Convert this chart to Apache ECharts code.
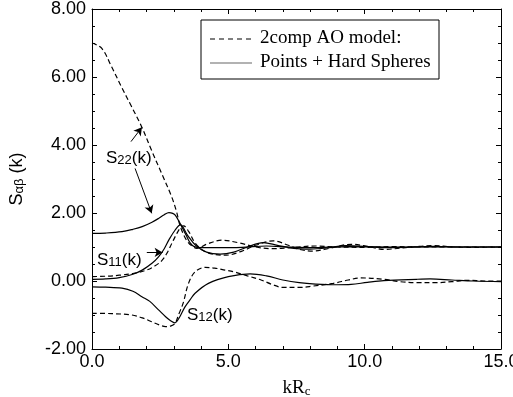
<!DOCTYPE html>
<html>
<head>
<meta charset="utf-8">
<script src="https://cdn.jsdelivr.net/npm/echarts@6/dist/echarts.min.js"></script>
<style>
html,body{margin:0;padding:0;background:#fff;}
#chart{width:513px;height:397px;}
</style>
</head>
<body>
<div id="chart"></div>
<script>
// ---- data ----
const xTickLabels = ['0.0', '5.0', '10.0', '15.0'];
const yTickLabels = ['-2.00', '0.00', '2.00', '4.00', '6.00', '8.00'];

// S22(k), 2comp AO model (dashed)
const kS22AO = [0, 0.36, 0.72, 1.08, 1.45, 1.82, 2.18, 2.55, 2.92, 3.1, 3.22, 3.34, 3.47, 3.65, 3.85, 4.2, 4.75, 5.4, 6.0, 6.6, 7.3, 8.2, 9.0, 10.0, 11.0, 12.0, 13.0, 15.0];
const S22AO  = [7.00, 6.84, 6.30, 5.71, 5.13, 4.54, 3.85, 3.17, 2.48, 2.04, 1.65, 1.40, 1.20, 1.04, 0.96, 1.08, 1.20, 1.12, 1.00, 0.95, 0.98, 1.03, 1.00, 0.99, 1.01, 1.00, 1.00, 1.00];

// S22(k), Points + Hard Spheres (solid)
const kS22PHS = [0, 0.5, 1.1, 1.5, 1.84, 2.2, 2.44, 2.65, 2.82, 2.96, 3.06, 3.24, 3.45, 3.6, 3.75, 4.0, 4.5, 5.5, 6.4, 7.2, 8.0, 9.4, 11.0, 13.0, 15.0];
const S22PHS  = [1.40, 1.41, 1.45, 1.52, 1.60, 1.73, 1.84, 1.95, 2.01, 1.99, 1.93, 1.68, 1.35, 1.12, 1.01, 0.98, 0.98, 0.99, 1.03, 1.00, 0.98, 1.01, 1.00, 1.00, 1.00];

// S11(k), 2comp AO model (dashed)
const kS11AO = [0, 0.5, 1.0, 1.5, 2.0, 2.3, 2.56, 2.75, 2.93, 3.1, 3.23, 3.36, 3.55, 3.8, 4.2, 4.93, 5.5, 6.0, 6.65, 7.2, 7.6, 8.1, 8.7, 9.5, 10.1, 10.7, 11.5, 12.5, 13.3, 14.0, 15.0];
const S11AO  = [0.13, 0.14, 0.17, 0.22, 0.32, 0.44, 0.60, 0.82, 1.11, 1.38, 1.55, 1.62, 1.45, 1.10, 0.84, 0.76, 0.88, 1.05, 1.18, 1.05, 0.93, 0.88, 0.96, 1.08, 1.02, 0.93, 0.98, 1.04, 1.00, 0.99, 1.00];

// S11(k), Points + Hard Spheres (solid)
const kS11PHS = [0, 0.5, 1.0, 1.5, 1.84, 2.2, 2.44, 2.65, 2.82, 3.05, 3.24, 3.5, 3.8, 4.2, 4.7, 5.2, 5.7, 6.28, 6.8, 7.4, 8.0, 8.6, 9.3, 10.0, 10.7, 11.5, 12.5, 13.5, 15.0];
const S11PHS  = [0.05, 0.06, 0.10, 0.20, 0.32, 0.52, 0.71, 0.95, 1.21, 1.50, 1.65, 1.35, 1.05, 0.85, 0.79, 0.85, 1.00, 1.13, 1.05, 0.96, 0.94, 0.97, 1.04, 1.02, 0.98, 0.99, 1.02, 1.00, 1.00];

// S12(k), 2comp AO model (dashed)
const kS12AO = [0, 0.73, 1.46, 1.9, 2.19, 2.5, 2.7, 2.9, 3.05, 3.18, 3.34, 3.54, 3.78, 4.15, 4.5, 4.88, 5.2, 5.7, 6.2, 6.6, 7.0, 7.6, 8.1, 8.85, 9.4, 9.85, 10.7, 11.3, 11.9, 12.6, 13.2, 13.8, 14.4, 15.0];
const S12AO  = [-0.95, -0.96, -1.00, -1.10, -1.20, -1.30, -1.34, -1.32, -1.24, -0.98, -0.66, -0.07, 0.27, 0.40, 0.38, 0.32, 0.27, 0.15, 0.03, -0.10, -0.19, -0.19, -0.15, -0.07, 0.03, 0.09, 0.05, -0.02, -0.05, -0.05, -0.02, 0.02, 0.00, 0.00];

// S12(k), Points + Hard Spheres (solid)
const kS12PHS = [0, 0.5, 1.1, 1.5, 1.83, 2.12, 2.44, 2.7, 2.87, 3.04, 3.2, 3.41, 3.6, 3.78, 4.27, 5.0, 5.8, 6.4, 7.0, 7.6, 8.2, 9.0, 9.5, 10.1, 10.7, 11.9, 12.4, 13.2, 14.0, 15.0];
const S12PHS  = [-0.17, -0.18, -0.21, -0.30, -0.46, -0.60, -0.85, -1.05, -1.16, -1.23, -1.08, -0.76, -0.55, -0.36, -0.07, 0.13, 0.21, 0.15, 0.03, -0.05, -0.09, -0.11, -0.10, -0.04, 0.01, 0.05, 0.06, 0.03, 0.00, -0.02];

const legendNames = ['2comp AO model:', 'Points + Hard Spheres'];
const curveLabels = ['22', '11', '12'];

// annotation arrows in data coordinates [x0,y0,x1,y1]
const arrows = [
  [1.43, 4.10, 1.83, 4.52],
  [1.58, 3.31, 2.19, 1.99],
  [2.01, 0.84, 2.59, 0.84]
];

// ---- build ----
function pairs(xs, ys) { return xs.map((x, i) => [x, ys[i]]); }

const SANS = "'Liberation Sans', Arial, sans-serif";
const SERIF = "'Liberation Serif', 'Times New Roman', serif";

const chart = echarts.init(document.getElementById('chart'), null, {renderer: 'canvas'});

function axisCommon(showLabel, pos) {
  return {
    position: pos,
    axisLine: {show: true, onZero: false, lineStyle: {color: '#000', width: 1}},
    axisTick: {show: true, inside: true, length: 5, lineStyle: {color: '#000', width: 1}},
    minorTick: {show: true, length: 3, lineStyle: {color: '#000', width: 1}},
    splitLine: {show: false},
    axisLabel: {show: showLabel}
  };
}

const xBase = {type: 'value', min: 0, max: 15, interval: 5};
const yBase = {type: 'value', min: -2, max: 8, interval: 2};

function xLabel(v) {
  const i = [0, 5, 10, 15].indexOf(Math.round(v));
  return i >= 0 ? xTickLabels[i] : '';
}
function yLabel(v) {
  const i = [-2, 0, 2, 4, 6, 8].indexOf(Math.round(v));
  return i >= 0 ? yTickLabels[i] : '';
}

const xAxes = [
  Object.assign({}, xBase, axisCommon(true, 'bottom'), {
    name: '{m|kR}{s|c}', nameLocation: 'middle', nameGap: 25,
    nameTextStyle: {
      rich: {
        m: {fontFamily: SERIF, fontSize: 19, color: '#000', lineHeight: 19, verticalAlign: 'top'},
        s: {fontFamily: SERIF, fontSize: 13, color: '#000', lineHeight: 13, padding: [9, 0, 0, 0], verticalAlign: 'bottom'}
      }
    },
    axisLabel: {show: true, formatter: xLabel, fontFamily: SANS, fontSize: 18, color: '#000', margin: 4, showMinLabel: true, showMaxLabel: true}
  }),
  Object.assign({}, xBase, axisCommon(false, 'top'))
];
xAxes[0].minorTick.splitNumber = 5;
xAxes[1].minorTick.splitNumber = 5;

const yAxes = [
  Object.assign({}, yBase, axisCommon(true, 'left'), {
    name: '{m|S}{s|αβ}{m| (k)}', nameLocation: 'middle', nameGap: 66, nameRotate: 90,
    nameTextStyle: {
      rich: {
        m: {fontFamily: SANS, fontSize: 18, color: '#000', lineHeight: 18, verticalAlign: 'top'},
        s: {fontFamily: SANS, fontSize: 13, color: '#000', lineHeight: 13, padding: [9, 0, 0, 0], verticalAlign: 'bottom'}
      }
    },
    axisLabel: {show: true, formatter: yLabel, fontFamily: SANS, fontSize: 18, color: '#000', margin: 6, showMinLabel: true, showMaxLabel: true}
  }),
  Object.assign({}, yBase, axisCommon(false, 'right'))
];
yAxes[0].minorTick.splitNumber = 4;
yAxes[1].minorTick.splitNumber = 4;

function lineSeries(name, data, dashed) {
  return {
    type: 'line', name: name, data: data,
    xAxisIndex: 0, yAxisIndex: 0,
    symbol: 'none', smooth: 0.35, clip: true,
    lineStyle: {color: '#000', width: 1.2, type: dashed ? [5, 3] : 'solid'},
    silent: true
  };
}

const series = [
  lineSeries(legendNames[0], pairs(kS22AO, S22AO), true),
  lineSeries(legendNames[1], pairs(kS22PHS, S22PHS), false),
  lineSeries(legendNames[0], pairs(kS11AO, S11AO), true),
  lineSeries(legendNames[1], pairs(kS11PHS, S11PHS), false),
  lineSeries(legendNames[0], pairs(kS12AO, S12AO), true),
  lineSeries(legendNames[1], pairs(kS12PHS, S12PHS), false)
];

series[1].markLine = {
  silent: true, animation: false,
  symbol: ['none', 'arrow'], symbolSize: [7, 8],
  label: {show: false},
  lineStyle: {color: '#000', width: 1, type: 'solid'},
  data: arrows.map(a => [{coord: [a[0], a[1]]}, {coord: [a[2], a[3]]}])
};

const annRich = {
  m: {fontFamily: SANS, fontSize: 17, color: '#000', lineHeight: 17, verticalAlign: 'top'},
  s: {fontFamily: SANS, fontSize: 13, color: '#000', lineHeight: 13, padding: [8, 0, 0, 0], verticalAlign: 'bottom'}
};
function ann(label, x, y) {
  return {type: 'text', left: x, top: y, silent: true,
    style: {text: '{m|S}{s|' + label + '}{m|(k)}', rich: annRich}};
}

const graphic = [
  {type: 'rect', shape: {x: 201, y: 20, width: 238, height: 59},
    style: {fill: '#fff', stroke: '#000', lineWidth: 1}, silent: true, z: 10},
  {type: 'line', shape: {x1: 210, y1: 39, x2: 252, y2: 39},
    style: {stroke: '#000', lineWidth: 1.2, lineDash: [5, 4]}, silent: true, z: 11},
  {type: 'line', shape: {x1: 210, y1: 63, x2: 252, y2: 63},
    style: {stroke: '#999', lineWidth: 1.5}, silent: true, z: 11},
  {type: 'text', left: 260, top: 29, silent: true, z: 11,
    style: {text: legendNames[0], font: '19px ' + SERIF, fill: '#000'}},
  {type: 'text', left: 260, top: 53, silent: true, z: 11,
    style: {text: legendNames[1], font: '19px ' + SERIF, fill: '#000'}},
  ann(curveLabels[0], 106, 146),
  ann(curveLabels[1], 97, 248),
  ann(curveLabels[2], 187, 303)
];

chart.setOption({
  animation: false,
  backgroundColor: '#fff',
  grid: {left: 92, right: 12, top: 9, bottom: 48, containLabel: false, outerBoundsMode: 'none'},
  xAxis: xAxes,
  yAxis: yAxes,
  series: series,
  graphic: graphic
});
</script>
</body>
</html>
